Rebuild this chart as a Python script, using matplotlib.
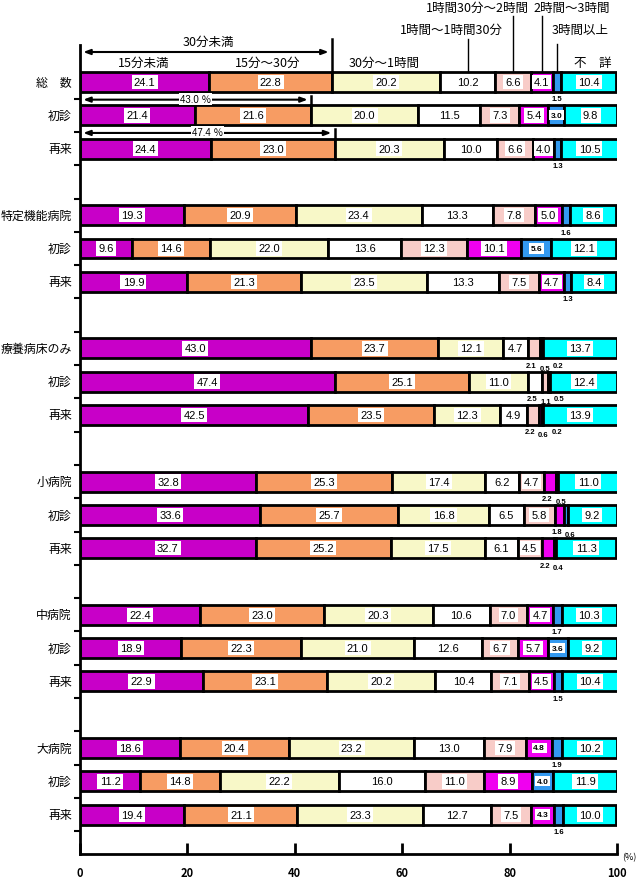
import matplotlib.pyplot as plt
import numpy as np

plt.rcParams['font.family'] = ['Noto Sans CJK JP', 'DejaVu Sans']

# row labels (3 rows per group: total / first visit / return visit)
row_labels = ["総　数", "初診", "再来",
              "特定機能病院", "初診", "再来",
              "療養病床のみ", "初診", "再来",
              "小病院", "初診", "再来",
              "中病院", "初診", "再来",
              "大病院", "初診", "再来"]

# waiting time shares (%) per category
under15 = [24.1, 21.4, 24.4, 19.3, 9.6, 19.9, 43.0, 47.4, 42.5,
           32.8, 33.6, 32.7, 22.4, 18.9, 22.9, 18.6, 11.2, 19.4]
m15_30 = [22.8, 21.6, 23.0, 20.9, 14.6, 21.3, 23.7, 25.1, 23.5,
          25.3, 25.7, 25.2, 23.0, 22.3, 23.1, 20.4, 14.8, 21.1]
m30_60 = [20.2, 20.0, 20.3, 23.4, 22.0, 23.5, 12.1, 11.0, 12.3,
          17.4, 16.8, 17.5, 20.3, 21.0, 20.2, 23.2, 22.2, 23.3]
h1_15 = [10.2, 11.5, 10.0, 13.3, 13.6, 13.3, 4.7, 2.5, 4.9,
         6.2, 6.5, 6.1, 10.6, 12.6, 10.4, 13.0, 16.0, 12.7]
h15_2 = [6.6, 7.3, 6.6, 7.8, 12.3, 7.5, 2.1, 1.1, 2.2,
         4.7, 5.8, 4.5, 7.0, 6.7, 7.1, 7.9, 11.0, 7.5]
h2_3 = [4.1, 5.4, 4.0, 5.0, 10.1, 4.7, 0.5, 0.5, 0.6,
        2.2, 1.8, 2.2, 4.7, 5.7, 4.5, 4.8, 8.9, 4.3]
h3plus = [1.5, 3.0, 1.3, 1.6, 5.6, 1.3, 0.2, 0.0, 0.2,
          0.5, 0.6, 0.4, 1.7, 3.6, 1.5, 1.9, 4.0, 1.6]
unknown = [10.4, 9.8, 10.5, 8.6, 12.1, 8.4, 13.7, 12.4, 13.9,
           11.0, 9.2, 11.3, 10.3, 9.2, 10.4, 10.2, 11.9, 10.0]

colors = ["#c800c8", "#f79c63", "#f8f8c8", "#ffffff",
          "#f8ccc8", "#f000f0", "#3399f0", "#00ffff"]

vals = np.array([under15, m15_30, m30_60, h1_15, h15_2, h2_3, h3plus, unknown]).T
lefts = np.cumsum(vals, axis=1) - vals
ypos = np.array([i // 3 * 4 + i % 3 for i in range(len(row_labels))])

fig = plt.figure(figsize=(6.41, 8.79), dpi=100)
ax = fig.add_axes([80 / 641, 24 / 879, 537 / 641, 855 / 879])

def r(py):
    # pixel row -> data y
    return (py - 83) / 33.3

bh = 0.6
for j in range(vals.shape[1]):
    ax.barh(ypos, vals[:, j], left=lefts[:, j], height=bh, color=colors[j],
            edgecolor="black", linewidth=2, zorder=2)

num_font = ["Liberation Sans", "Noto Sans CJK JP"]
for i in range(len(row_labels)):
    below = []
    for j, v in enumerate(vals[i]):
        cx = lefts[i, j] + v / 2
        if v >= 3:
            small = j == 6 or (i >= 15 and j == 5 and v < 5)
            ax.text(cx, ypos[i], f"{v:.1f}", ha="center", va="center",
                    fontsize=6 if small else 8, family=num_font,
                    fontweight="bold" if small else "normal", zorder=4,
                    bbox=dict(boxstyle="square,pad=0.2", fc="white", ec="none"))
        elif v > 0:
            below.append((cx, v))
    if len(below) == 1:
        xs = [below[0][0]]
    else:
        xs = []
        for k, (cx, v) in enumerate(below):
            xs.append(cx - 0.5 if k == 0 else max(cx, xs[-1] + 2.5))
    for k, ((cx, v), x) in enumerate(zip(below, xs)):
        dy = 0.08 if (k == 1 and len(below) > 1) else 0
        ax.text(x, ypos[i] + 0.51 + dy, f"{v:.1f}", ha="center", va="center",
                fontsize=5.5, fontweight="bold", family=num_font)
    ax.text(-1.5, ypos[i], row_labels[i], ha="right", va="center", fontsize=8.6)

# header annotations
tot = vals[0]
cum = np.cumsum(tot)
arrow = dict(arrowstyle="<|-|>,head_length=0.4,head_width=0.15", lw=1.5,
             color="black", shrinkA=0, shrinkB=0)
b30 = cum[1]
ax.plot([b30, b30], [r(40), -bh / 2], color="black", lw=1.8, clip_on=False)
ax.annotate("", xy=(0.6, r(53)), xytext=(b30 - 0.6, r(53)), arrowprops=arrow,
            annotation_clip=False)
ax.text(23.9, r(42), "30分未満", ha="center", va="center", fontsize=9)
ax.text(11.9, r(63), "15分未満", ha="center", va="center", fontsize=9)
ax.text(35.0, r(63), "15分～30分", ha="center", va="center", fontsize=9)
ax.text(56.7, r(63), "30分～1時間", ha="center", va="center", fontsize=9)
ax.text(95.5, r(63), "不　詳", ha="center", va="center", fontsize=9)

mid = cum - tot / 2
ax.text(69.1, r(30), "1時間～1時間30分", ha="center", va="center", fontsize=9)
ax.plot([mid[3]] * 2, [r(40), -bh / 2], color="black", lw=1, clip_on=False)
ax.text(74.0, r(8), "1時間30分～2時間", ha="center", va="center", fontsize=9)
ax.plot([mid[4]] * 2, [r(17), -bh / 2], color="black", lw=1, clip_on=False)
ax.text(91.5, r(8), "2時間～3時間", ha="center", va="center", fontsize=9)
ax.plot([mid[5]] * 2, [r(17), -bh / 2], color="black", lw=1, clip_on=False)
ax.text(93.2, r(30), "3時間以上", ha="center", va="center", fontsize=9)
ax.plot([mid[6]] * 2, [r(45), -bh / 2], color="black", lw=1, clip_on=False)

# under-30-min totals for first / return visits
for i in (1, 2):
    s = vals[i, 0] + vals[i, 1]
    ya = ypos[i] - 0.47
    ax.annotate("", xy=(0.6, ya), xytext=(s - 0.6, ya), arrowprops=arrow,
                annotation_clip=False)
    ax.plot([s, s], [ya - 0.12, ypos[i] - bh / 2], color="black", lw=1.8)
    ax.text(s / 2, ya - 0.03, f"{s:.1f} ％", ha="center", va="center",
            fontsize=7, family=num_font, zorder=4,
            bbox=dict(boxstyle="square,pad=0.1", fc="white", ec="none"))

ax.set_xlim(0, 100)
ax.set_ylim(r(855), r(0))
for s in ("top", "right"):
    ax.spines[s].set_visible(False)
ax.spines["left"].set_linewidth(2)
ax.spines["bottom"].set_linewidth(2)
ax.spines["left"].set_bounds(r(855), r(46))

ax.set_xticks([0, 20, 40, 60, 80, 100])
ax.tick_params(axis="x", direction="in", length=8, width=2, labelsize=8, pad=9)
for t in ax.get_xticklabels():
    t.set_fontweight("bold")
ax.set_yticks(np.arange(0.5, 23, 1))
ax.tick_params(axis="y", direction="out", length=4, width=1.5, labelleft=False)
ax.text(100.9, r(858), "(%)", ha="left", va="center", fontsize=6.5)

plt.savefig("out.png", dpi=100)
